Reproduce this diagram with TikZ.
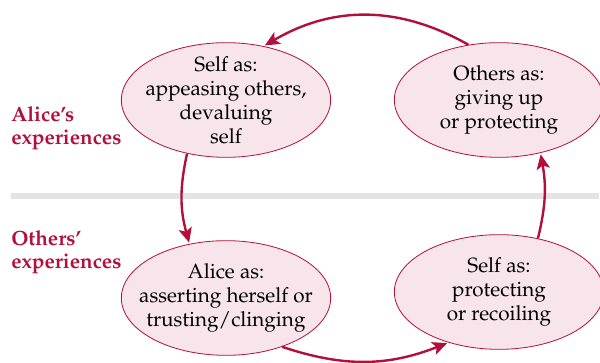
\documentclass[tikz,border=0pt]{standalone}
\usepackage[T1]{fontenc}
\usepackage{mathpazo}
\usetikzlibrary{arrows.meta,shapes.geometric,positioning}
\definecolor{loopred}{RGB}{178,16,60}
\definecolor{loopfill}{RGB}{248,228,235}
\definecolor{rulegrey}{RGB}{228,228,228}

\begin{document}
\begin{tikzpicture}[x=0.75pt,y=0.75pt,>={Stealth[length=11pt,width=10pt,inset=2.5pt]},
    shorten >=1pt,node distance=204.75pt,
    view/.style={ellipse,draw=loopred,fill=loopfill,line width=0.6pt,minimum width=157pt,
      minimum height=86pt,inner sep=-15pt,align=center,font=\fontsize{15.5}{18}\selectfont},
    side/.style={anchor=west,align=left,inner sep=0pt,text=loopred,
      font=\fontsize{15.5}{17.5}\selectfont\bfseries},
    turn/.style={->,draw=loopred,line width=1.8pt}]
    \useasboundingbox (0,0) rectangle (600,363);
    \draw[rulegrey,line width=4pt] (11,167) -- (600,167);

    \node[view] (1) at (226,263) {Self as:\\appeasing others,\\devaluing\\self};
    \node[view] (2) [right of=1] {Others as:\\giving up\\or protecting};
    \node[view] (3) [node distance=148.5pt, below of=1] {Alice as:\\asserting herself or\\trusting/clinging};
    \node[view] (4) [node distance=144pt, below of=2] {Self as:\\protecting\\or recoiling};

    \node[side] (alice) at (11,235) {Alice's\\experiences};
    \node[side] (others) at (11,111) {Others'\\experiences};

    \path (2.119) edge [turn, bend right=30] (1.55);
    \path (1.234) edge [turn, bend right=14] (3.124);
    \path (3.-41) edge [turn, bend right=20] (4.225);
    \path (4.54) edge [turn, bend right=12] (2.-52);
\end{tikzpicture}
\end{document}
